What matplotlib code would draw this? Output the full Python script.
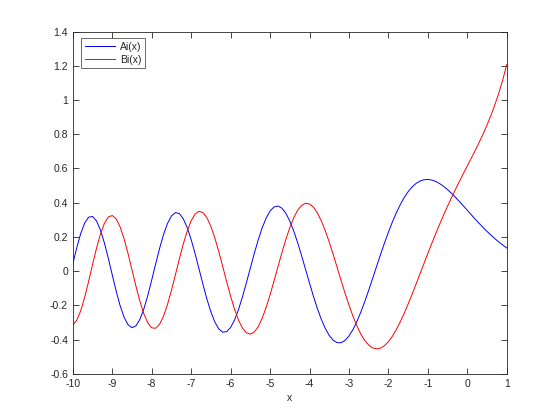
import matplotlib
matplotlib.use("Agg")
import matplotlib.pyplot as plt

x_vals = [round(-10 + 0.1 * i, 1) for i in range(111)]

ai_vals = [
    0.0424, 0.1362, 0.2190, 0.2804, 0.3149, 0.3193, 0.2936, 0.2406, 0.1653, 0.0750,
    -0.0222, -0.1173, -0.2022, -0.2694, -0.3133, -0.3305, -0.3198, -0.2824, -0.2217, -0.1430,
    -0.0527, 0.0417, 0.1330, 0.2139, 0.2785, 0.3220, 0.3416, 0.3360, 0.3060, 0.2541,
    0.1844, 0.1018, 0.0121, -0.0784, -0.1637, -0.2382, -0.2975, -0.3377, -0.3568, -0.3537,
    -0.3293, -0.2853, -0.2246, -0.1508, -0.0684, 0.0178, 0.1031, 0.1829, 0.2529, 0.3098,
    0.3510, 0.3749, 0.3804, 0.3679, 0.3380, 0.2923, 0.2343, 0.1654, 0.0893, 0.0096,
    -0.0703, -0.1477, -0.2193, -0.2826, -0.3353, -0.3762, -0.4040, -0.4180, -0.4183, -0.4052,
    -0.3788, -0.3420, -0.2948, -0.2397, -0.1780, -0.1116, -0.0425, 0.0276, 0.0972, 0.1642,
    0.2274, 0.2868, 0.3408, 0.3886, 0.4299, 0.4643, 0.4917, 0.5123, 0.5262, 0.5338,
    0.5356, 0.5320, 0.5236, 0.5110, 0.4949, 0.4757, 0.4542, 0.4309, 0.4063, 0.3808,
    0.3550, 0.3292, 0.3037, 0.2788, 0.2547, 0.2317, 0.2098, 0.1892, 0.1698, 0.1519,
    0.1353,
]

bi_vals = [
    -0.3147, -0.2874, -0.2320, -0.1539, -0.0609, 0.0378, 0.1330, 0.2158, 0.2786, 0.3161,
    0.3250, 0.3049, 0.2579, 0.1883, 0.1024, 0.0078, -0.0876, -0.1757, -0.2491, -0.3024,
    -0.3313, -0.3340, -0.3104, -0.2629, -0.1951, -0.1125, -0.0216, 0.0709, 0.1583, 0.2344,
    0.2938, 0.3330, 0.3494, 0.3421, 0.3120, 0.2612, 0.1938, 0.1138, 0.0268, -0.0619,
    -0.1468, -0.2230, -0.2862, -0.3328, -0.3606, -0.3680, -0.3560, -0.3243, -0.2754, -0.2123,
    -0.1384, -0.0578, 0.0257, 0.1081, 0.1855, 0.2542, 0.3122, 0.3560, 0.3843, 0.3967,
    0.3922, 0.3733, 0.3394, 0.2927, 0.2352, 0.1691, 0.0971, 0.0218, -0.0543, -0.1287,
    -0.1981, -0.2631, -0.3196, -0.3676, -0.4052, -0.4322, -0.4486, -0.4541, -0.4497, -0.4355,
    -0.4123, -0.3805, -0.3414, -0.2962, -0.2460, -0.1918, -0.1347, -0.0758, -0.0158, 0.0443,
    0.1040, 0.1626, 0.2198, 0.2753, 0.3288, 0.3804, 0.4300, 0.4780, 0.5245, 0.5700,
    0.6149, 0.6599, 0.7055, 0.7525, 0.8018, 0.8543, 0.9111, 0.9733, 1.0424, 1.1199,
    1.2074,
]

x_ticks = list(range(-10, 2))
x_tick_labels = [str(t) for t in x_ticks]
y_ticks = [-0.6, -0.4, -0.2, 0, 0.2, 0.4, 0.6, 0.8, 1, 1.2, 1.4]
y_tick_labels = ["-0.6", "-0.4", "-0.2", "0", "0.2", "0.4", "0.6", "0.8", "1", "1.2", "1.4"]
series_names = ["Ai(x)", "Bi(x)"]

plt.rcParams['font.family'] = ['Liberation Sans', 'DejaVu Sans']
fig = plt.figure(figsize=(5.6, 4.2), dpi=100)
ax = fig.add_axes([0.13, 0.11, 0.775, 0.815])

ax.plot(x_vals, ai_vals, color=(0, 0, 1), lw=0.7, label=series_names[0])
ax.plot(x_vals, bi_vals, color=(1, 0, 0), lw=0.7, label=series_names[1])

ax.set_xlim(-10, 1)
ax.set_ylim(-0.6, 1.4)
ax.set_xticks(x_ticks)
ax.set_xticklabels(x_tick_labels)
ax.set_yticks(y_ticks)
ax.set_yticklabels(y_tick_labels)
ax.tick_params(direction='in', length=4, width=0.6, labelsize=7.5,
               colors='#262626', top=True, right=True)
for s in ax.spines.values():
    s.set_linewidth(0.6)
    s.set_color('#262626')
ax.set_xlabel('x', fontsize=7.5, color='#262626', labelpad=3)

leg = ax.legend(loc='upper left', bbox_to_anchor=(0.019, 0.981), fontsize=7.5,
                frameon=True, fancybox=False, edgecolor='#262626',
                handlelength=2.9, borderpad=0.35, labelspacing=0.3,
                handletextpad=0.5, borderaxespad=0.0)
leg.get_frame().set_linewidth(0.6)
for t in leg.get_texts():
    t.set_color('#262626')

fig.savefig('out.png', dpi=100)
